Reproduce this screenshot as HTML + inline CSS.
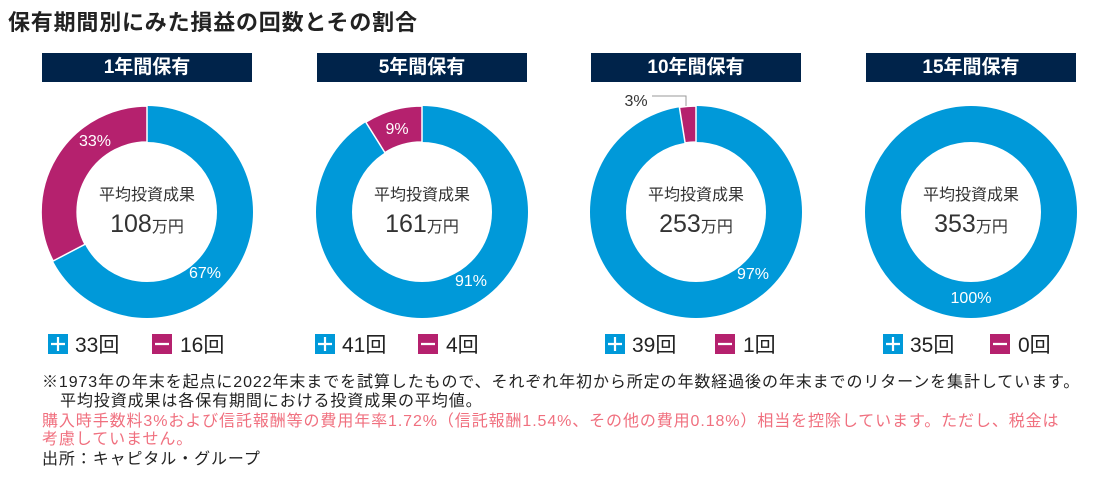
<!DOCTYPE html>
<html><head><meta charset="utf-8"><style>
body{margin:0;width:1095px;height:477px;background:#fff;font-family:"Liberation Sans","Noto Sans CJK JP",sans-serif;position:relative;overflow:hidden;color:#222}
.t{position:absolute;white-space:nowrap}
.ban{position:absolute;top:53px;width:210px;height:29px;background:#00234a;color:#fff;font-weight:bold;font-size:19px;text-align:center;line-height:29px}
.fn{font-size:16px;letter-spacing:0.9px;line-height:19px}
</style></head><body>
<div class="t" style="left:8px;top:5px;font-size:22px;letter-spacing:0.8px;font-weight:bold;color:#222">保有期間別にみた損益の回数とその割合</div>
<div class="ban" style="left:42px">1年間保有</div>
<div class="ban" style="left:317px">5年間保有</div>
<div class="ban" style="left:591px">10年間保有</div>
<div class="ban" style="left:866px">15年間保有</div>
<svg width="1095" height="477" style="position:absolute;left:0;top:0" font-family="Liberation Sans, Noto Sans CJK JP, sans-serif">
<g fill="none" stroke="#0099d9" stroke-width="36">
<circle cx="147" cy="212" r="88"/><circle cx="422" cy="212" r="88"/><circle cx="696" cy="212" r="88"/><circle cx="971" cy="212" r="88"/></g>
<g fill="#b5216e" stroke="#fff" stroke-width="1.5">
<path d="M147 106 A106 106 0 0 0 53.1 261 L85 244.3 A70 70 0 0 1 147 142Z"/>
<path d="M422 106 A106 106 0 0 0 365.8 122.1 L384.9 152.6 A70 70 0 0 1 422 142Z"/>
<path d="M696 106 A106 106 0 0 0 679.4 107.3 L685.1 142.9 A70 70 0 0 1 696 142Z"/>
</g>
<polyline points="652,96 686,96 686,106" fill="none" stroke="#999" stroke-width="1"/>
<g fill="#fff" font-size="16" text-anchor="middle">
<text x="95" y="146">33%</text><text x="205" y="278">67%</text>
<text x="397" y="134">9%</text><text x="471" y="286">91%</text>
<text x="753" y="279">97%</text><text x="971" y="303">100%</text></g>
<text x="636" y="106" font-size="16" fill="#333" text-anchor="middle">3%</text>
<g text-anchor="middle" fill="#333">
<text x="147" y="200" font-size="16">平均投資成果</text><text x="147" y="232" font-size="25">108<tspan font-size="16">万円</tspan></text>
<text x="422" y="200" font-size="16">平均投資成果</text><text x="422" y="232" font-size="25">161<tspan font-size="16">万円</tspan></text>
<text x="696" y="200" font-size="16">平均投資成果</text><text x="696" y="232" font-size="25">253<tspan font-size="16">万円</tspan></text>
<text x="971" y="200" font-size="16">平均投資成果</text><text x="971" y="232" font-size="25">353<tspan font-size="16">万円</tspan></text>
</g>
<g font-size="21" fill="#222">
<rect x="48" y="334" width="20" height="20" fill="#0099d9"/><rect x="152" y="334" width="20" height="20" fill="#b5216e"/>
<text x="75" y="352">33回</text><text x="180" y="352">16回</text>
<rect x="315" y="334" width="20" height="20" fill="#0099d9"/><rect x="418" y="334" width="20" height="20" fill="#b5216e"/>
<text x="342" y="352">41回</text><text x="446" y="352">4回</text>
<rect x="605" y="334" width="20" height="20" fill="#0099d9"/><rect x="715" y="334" width="20" height="20" fill="#b5216e"/>
<text x="632" y="352">39回</text><text x="743" y="352">1回</text>
<rect x="883" y="334" width="20" height="20" fill="#0099d9"/><rect x="990" y="334" width="20" height="20" fill="#b5216e"/>
<text x="910" y="352">35回</text><text x="1018" y="352">0回</text>
</g>
<g stroke="#fff" stroke-width="2.2">
<path d="M51 344h14M58 337v14M155 344h14"/><path d="M318 344h14M325 337v14M421 344h14"/>
<path d="M608 344h14M615 337v14M718 344h14"/><path d="M886 344h14M893 337v14M993 344h14"/></g>
</svg>
<div class="t fn" style="left:42px;top:373px">※1973年の年末を起点に2022年末までを試算したもので、それぞれ年初から所定の年数経過後の年末までのリターンを集計しています。</div>
<div class="t fn" style="left:60px;top:392px">平均投資成果は各保有期間における投資成果の平均値。</div>
<div class="t fn" style="left:42px;top:412px;color:#f0707f">購入時手数料3%および信託報酬等の費用年率1.72%（信託報酬1.54%、その他の費用0.18%）相当を控除しています。ただし、税金は</div>
<div class="t fn" style="left:42px;top:430px;color:#f0707f">考慮していません。</div>
<div class="t fn" style="left:42px;top:450px">出所：キャピタル・グループ</div>
</body></html>
